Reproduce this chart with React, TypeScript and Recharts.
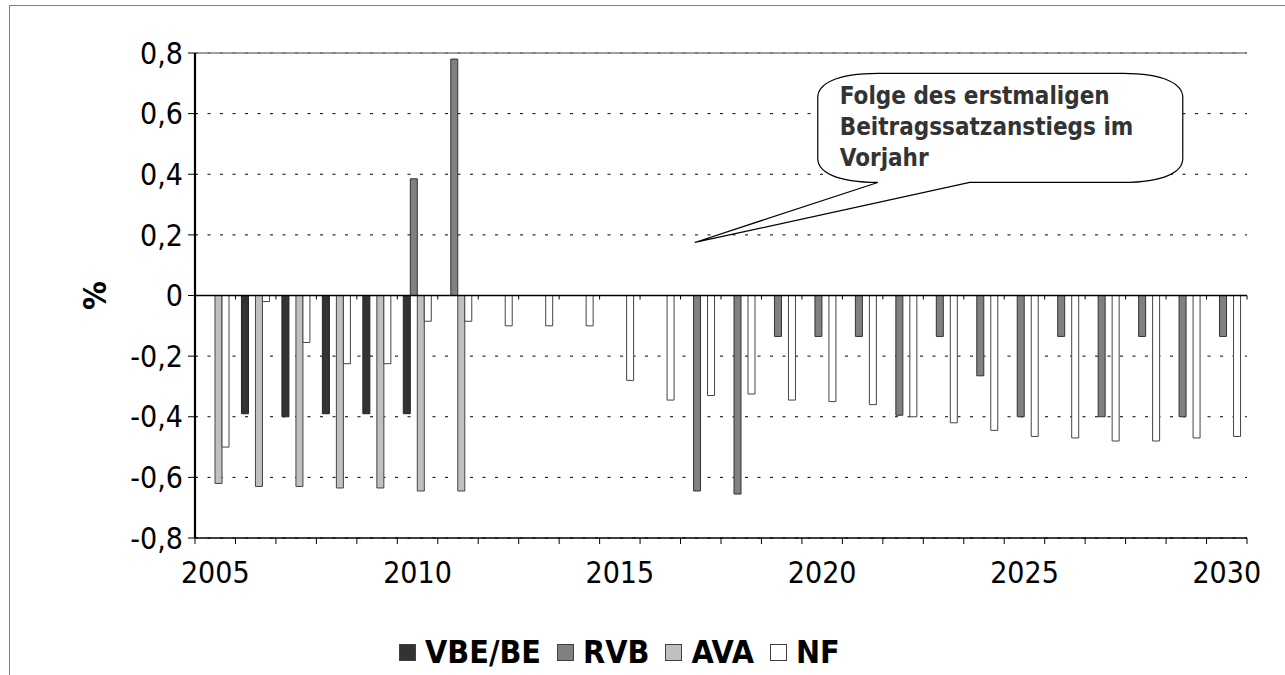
import React from 'react';
import {
  BarChart,
  Bar,
  XAxis,
  YAxis,
  CartesianGrid,
  ReferenceLine,
  ReferenceDot,
  Legend,
} from 'recharts';

// ---------- data ----------
const years = [
  2005, 2006, 2007, 2008, 2009, 2010, 2011, 2012, 2013, 2014, 2015, 2016, 2017,
  2018, 2019, 2020, 2021, 2022, 2023, 2024, 2025, 2026, 2027, 2028, 2029, 2030,
];
const vbeBe = [
  null, -0.39, -0.4, -0.39, -0.39, -0.39, null, null, null, null, null, null, null,
  null, null, null, null, null, null, null, null, null, null, null, null, null,
];
const rvb = [
  null, null, null, null, null, 0.385, 0.78, null, null, null, null, null, -0.645,
  -0.655, -0.135, -0.135, -0.135, -0.395, -0.135, -0.265, -0.4, -0.135, -0.4, -0.135, -0.4, -0.135,
];
const ava = [
  -0.62, -0.63, -0.63, -0.635, -0.635, -0.645, -0.645, null, null, null, null, null, null,
  null, null, null, null, null, null, null, null, null, null, null, null, null,
];
const nf = [
  -0.5, -0.02, -0.155, -0.225, -0.225, -0.085, -0.085, -0.1, -0.1, -0.1, -0.28, -0.345, -0.33,
  -0.325, -0.345, -0.35, -0.36, -0.4, -0.42, -0.445, -0.465, -0.47, -0.48, -0.48, -0.47, -0.465,
];
const seriesNames = ['VBE/BE', 'RVB', 'AVA', 'NF'];
const seriesColors = ['#333333', '#808080', '#c0c0c0', '#ffffff'];
const yTicks = [-0.8, -0.6, -0.4, -0.2, 0, 0.2, 0.4, 0.6, 0.8];
const yAxisTitle = '%';
const calloutLines = ['Folge des erstmaligen', 'Beitragssatzanstiegs im', 'Vorjahr'];
const calloutYear = 2017;
const calloutValue = 0.175;

const data = years.map((year, i) => ({
  year,
  vbe: vbeBe[i],
  rvb: rvb[i],
  ava: ava[i],
  nf: nf[i],
}));

// ---------- layout ----------
const W = 1285;
const H = 675;
const FONT = "'DejaVu Sans Condensed', 'DejaVu Sans', sans-serif";
const MARGIN = { top: 53, right: 38, left: 0, bottom: 37 };
const Y_AXIS_W = 195;
const X_AXIS_H = 60;
const PLOT_W = W - MARGIN.right - Y_AXIS_W;
const BAND = PLOT_W / years.length;

const fmt = (v: number) => (v === 0 ? '0' : v.toFixed(1).replace('.', ','));

const XTick = (props: any) => {
  const { x, y, payload, index } = props;
  const half = BAND / 2;
  const year = payload.value;
  return (
    <g>
      <line x1={x - half} x2={x - half} y1={y} y2={y + 6} stroke="#000" strokeWidth={1} />
      {index === years.length - 1 && (
        <line x1={x + half} x2={x + half} y1={y} y2={y + 6} stroke="#000" strokeWidth={1} />
      )}
      {year % 5 === 0 && (
        <text
          x={x}
          y={y + 45}
          textAnchor="middle"
          fontSize={30}
          fontFamily={FONT}
          style={{ fontStretch: 'condensed' }}
          fill="#000"
        >
          {year}
        </text>
      )}
    </g>
  );
};

const ZeroLine = (p: any) => {
  const { x1, x2, y1 } = p;
  const step = (x2 - x1) / years.length;
  return (
    <g>
      <line x1={x1} x2={x2} y1={y1} y2={y1} stroke="#000" strokeWidth={1.3} />
      {years.map((_, i) => (
        <line
          key={i}
          x1={x1 + (i + 1) * step}
          x2={x1 + (i + 1) * step}
          y1={y1}
          y2={y1 + 4}
          stroke="#000"
          strokeWidth={1}
        />
      ))}
    </g>
  );
};

const TopLine = (p: any) => {
  const { x1, x2, y1 } = p;
  return <line x1={x1} x2={x2} y1={y1} y2={y1} stroke="#7f7f7f" strokeWidth={1.3} />;
};

const Callout = (p: any) => {
  const tx = p.cx - 6;
  const ty = p.cy;
  const x0 = tx + 123;
  const x1 = tx + 488;
  const y0 = ty - 169;
  const y1 = ty - 60;
  const rx = 60;
  const ry = 24;
  const tl = tx + 183;
  const tr = tx + 275;
  const d = [
    `M ${x0 + rx} ${y0}`,
    `L ${x1 - rx} ${y0}`,
    `C ${x1 - rx * 0.3} ${y0} ${x1} ${y0 + ry * 0.45} ${x1} ${y0 + ry}`,
    `L ${x1} ${y1 - ry}`,
    `C ${x1} ${y1 - ry * 0.45} ${x1 - rx * 0.3} ${y1} ${x1 - rx} ${y1}`,
    `L ${tr} ${y1}`,
    `L ${tx} ${ty}`,
    `L ${tl} ${y1}`,
    `L ${x0 + rx} ${y1}`,
    `C ${x0 + rx * 0.3} ${y1} ${x0} ${y1 - ry * 0.45} ${x0} ${y1 - ry}`,
    `L ${x0} ${y0 + ry}`,
    `C ${x0} ${y0 + ry * 0.45} ${x0 + rx * 0.3} ${y0} ${x0 + rx} ${y0}`,
    'Z',
  ].join(' ');
  return (
    <g>
      <path d={d} fill="#fff" stroke="#000" strokeWidth={1.2} />
      {calloutLines.map((line, i) => (
        <text
          key={i}
          x={tx + 145}
          y={ty - 138 + i * 31}
          fontSize={24}
          fontWeight="bold"
          fontFamily={FONT}
          style={{ fontStretch: 'condensed' }}
          fill="#333"
        >
          {line}
        </text>
      ))}
    </g>
  );
};

const LegendContent = (props: any) => {
  const payload = [...(props.payload || [])].sort(
    (a: any, b: any) => seriesNames.indexOf(a.value) - seriesNames.indexOf(b.value)
  );
  return (
    <div
      style={{
        display: 'flex',
        alignItems: 'center',
        height: 40,
        fontFamily: FONT,
        fontStretch: 'condensed',
        fontWeight: 'bold',
        fontSize: 32,
        lineHeight: '40px',
        color: '#000',
        whiteSpace: 'nowrap',
      }}
    >
      {payload.map((e: any, i: number) => (
        <div key={i} style={{ display: 'flex', alignItems: 'center', marginRight: 16 }}>
          <span
            style={{
              display: 'inline-block',
              width: 15,
              height: 15,
              background: e.color,
              border: '1px solid #404040',
              marginRight: 9,
            }}
          />
          <span>{e.value}</span>
        </div>
      ))}
    </div>
  );
};

const YLabel = (p: any) => {
  const vb = p.viewBox || { x: 0, y: 0, width: 0, height: 0 };
  const cx = vb.x + 95;
  const cy = vb.y + vb.height / 2;
  return (
    <text
      x={cx}
      y={cy}
      transform={`rotate(-90 ${cx} ${cy})`}
      textAnchor="middle"
      dominantBaseline="central"
      fontSize={32}
      fontWeight="bold"
      fontFamily={FONT}
      style={{ fontStretch: 'condensed' }}
      fill="#000"
    >
      {yAxisTitle}
    </text>
  );
};

export default function App() {
  return (
    <div style={{ position: 'fixed', left: 0, top: 0, width: W, height: H, overflow: 'hidden', background: '#fff' }}>
      <div style={{ position: 'absolute', left: 0, top: 0 }}>
        <BarChart
          width={W}
          height={H}
          data={data}
          margin={MARGIN}
          barGap={0}
          barSize={7}
        >
          <CartesianGrid
            vertical={false}
            stroke="#000"
            strokeDasharray="3 9.5"
            horizontalValues={yTicks}
          />
          <XAxis
            dataKey="year"
            interval={0}
            height={X_AXIS_H}
            tickLine={false}
            tickSize={0}
            tickMargin={0}
            axisLine={{ stroke: '#000', strokeWidth: 1.3 }}
            tick={<XTick />}
          />
          <YAxis
            width={Y_AXIS_W}
            domain={[-0.8, 0.8]}
            ticks={yTicks}
            interval={0}
            tickFormatter={fmt}
            tickSize={7}
            tickMargin={5}
            tickLine={{ stroke: '#000' }}
            axisLine={{ stroke: '#000', strokeWidth: 2.2 }}
            tick={{ fontSize: 30, fill: '#000', fontFamily: FONT, style: { fontStretch: 'condensed' } }}
            label={<YLabel />}
          />
          <YAxis
            yAxisId="right"
            orientation="right"
            width={0}
            domain={[-0.8, 0.8]}
            tick={false}
            tickLine={false}
            axisLine={{ stroke: '#7f7f7f', strokeWidth: 1.3 }}
          />
          <Bar dataKey="vbe" name={seriesNames[0]} fill={seriesColors[0]} stroke="#222" strokeWidth={1} isAnimationActive={false} />
          <Bar dataKey="rvb" name={seriesNames[1]} fill={seriesColors[1]} stroke="#333" strokeWidth={1} isAnimationActive={false} />
          <Bar dataKey="ava" name={seriesNames[2]} fill={seriesColors[2]} stroke="#444" strokeWidth={1} isAnimationActive={false} />
          <Bar dataKey="nf" name={seriesNames[3]} fill={seriesColors[3]} stroke="#444" strokeWidth={1} isAnimationActive={false} />
          <ReferenceLine y={0.8} shape={<TopLine />} />
          <ReferenceLine y={0} shape={<ZeroLine />} />
          <ReferenceDot x={calloutYear} y={calloutValue} r={0} shape={<Callout />} />
          <Legend
            content={<LegendContent />}
            verticalAlign="bottom"
            itemSorter={null as any}
            wrapperStyle={{ left: 399, top: 632, bottom: 'auto', width: 700, height: 40 }}
          />
        </BarChart>
      </div>
      <div
        style={{
          position: 'absolute',
          left: 9,
          top: 5,
          width: W + 20,
          height: H + 20,
          borderLeft: '1px solid #7f7f7f',
          borderTop: '1px solid #7f7f7f',
          pointerEvents: 'none',
        }}
      />
    </div>
  );
}
